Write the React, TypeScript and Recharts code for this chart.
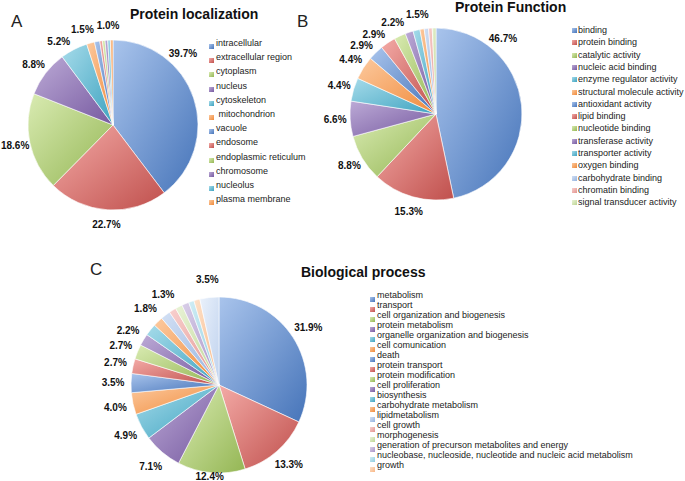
import React from 'react';
import { PieChart, Pie, Cell } from 'recharts';

// A: protein localization
const A_NAMES = ['intracellular', 'extracellular region', 'cytoplasm', 'nucleus', 'cytoskeleton', ' mitochondrion', 'vacuole', 'endosome', 'endoplasmic reticulum', 'chromosome', 'nucleolus', 'plasma membrane'];
const A_VALUES = [39.7, 22.7, 18.6, 8.8, 5.2, 1.5, 1.0, 0.5, 0.5, 0.5, 0.5, 0.5];
const A_UNLABELED = ['endosome', 'endoplasmic reticulum', 'chromosome', 'nucleolus', 'plasma membrane'];

// B: protein function
const B_NAMES = ['binding', 'protein binding', 'catalytic activity', 'nucleic acid binding', 'enzyme regulator activity', 'structural molecule activity', 'antioxidant activity', 'lipid binding', 'nucleotide binding', 'transferase activity', 'transporter activity', 'oxygen binding', 'carbohydrate binding', 'chromatin binding', 'signal transducer activity'];
const B_VALUES = [46.7, 15.3, 8.8, 6.6, 4.4, 4.4, 2.9, 2.9, 2.2, 1.5, 1.3, 0.8, 0.8, 0.7, 0.7];
const B_UNLABELED = ['transporter activity', 'oxygen binding', 'carbohydrate binding', 'chromatin binding', 'signal transducer activity'];

// C: biological process (last slice has no legend entry)
const C_NAMES = ['metabolism', 'transport', 'cell organization and biogenesis', 'protein metabolism', 'organelle organization and biogenesis', 'cell comunication', 'death', 'protein transport', 'protein modification', 'cell proliferation', 'biosynthesis', 'carbohydrate metabolism', 'lipidmetabolism', 'cell growth', 'morphogenesis', 'generation of precurson metabolites and energy', 'nucleobase, nucleoside, nucleotide and nucleic acid metabolism', 'growth', 'other'];
const C_VALUES = [31.9, 13.3, 12.4, 7.1, 4.9, 4.0, 3.5, 2.7, 2.7, 2.2, 2.2, 1.8, 1.8, 1.3, 1.3, 1.3, 1.0, 1.1, 3.5];
const C_UNLABELED = ['biosynthesis', 'lipidmetabolism', 'morphogenesis', 'generation of precurson metabolites and energy', 'nucleobase, nucleoside, nucleotide and nucleic acid metabolism', 'growth'];
const C_LEGEND = C_NAMES.slice(0, 18);

// light / base pairs, one row per tier (tier 0 and 1 share the same colours)
const TIERS = [
  [['#a9c4ec', '#4674b9'], ['#f3aaa6', '#c0504d'], ['#d9ebb2', '#94b654'], ['#bcaad6', '#7659a0'], ['#a6dbea', '#3ea3c0'], ['#fcc99e', '#f08a3a']],
  [['#a9c4ec', '#4674b9'], ['#f3aaa6', '#c0504d'], ['#d9ebb2', '#94b654'], ['#bcaad6', '#7659a0'], ['#a6dbea', '#3ea3c0'], ['#fcc99e', '#f08a3a']],
  [['#d3e0f4', '#94b2de'], ['#f8d0ce', '#e2938f'], ['#e9f3d6', '#bdd595'], ['#d9cfe8', '#a893c8'], ['#d0edf5', '#8fcde0'], ['#fde1c9', '#f8b786']],
  [['#eaf1fb', '#bfd2ee'], ['#fbe6e5', '#eebcba'], ['#f3f8ea', '#d6e6bb'], ['#ece7f4', '#cbbfe0'], ['#e6f5fa', '#c0e4ef'], ['#feefe3', '#fbd3b3']],
];

const gradId = (i: number) => `g${Math.min(Math.floor(i / 6), 3)}-${i % 6}`;
const colorPair = (i: number) => TIERS[Math.min(Math.floor(i / 6), 3)][i % 6];

const toData = (names: string[], values: number[]) => names.map((name, i) => ({ name, value: values[i] }));

const FONT = "'Liberation Sans', Arial, Helvetica, sans-serif";
const RAD = Math.PI / 180;
const fmt = (v: number) => `${v.toFixed(1)}%`;

// nudge crowded labels apart (angle offsets in degrees, keyed by slice index)
function spreadLabels(names: string[], values: number[], unlabeled: string[], R: number) {
  const total = values.reduce((a, b) => a + b, 0);
  let acc = 0;
  const items: { i: number; ang: number; mid: number; w: number }[] = [];
  values.forEach((v, i) => {
    const mid = 90 - ((acc + v / 2) / total) * 360;
    acc += v;
    if (!unlabeled.includes(names[i])) items.push({ i, ang: mid, mid, w: fmt(v).length * 5.8 });
  });
  const pos = (d: { ang: number }) => [R * Math.cos(-d.ang * RAD), R * Math.sin(-d.ang * RAD)];
  for (let it = 0; it < 300; it++) {
    let moved = false;
    for (let k = 0; k < items.length; k++) {
      const a = items[k];
      const b = items[(k + 1) % items.length];
      const [ax, ay] = pos(a);
      const [bx, by] = pos(b);
      if (Math.abs(ax - bx) < (a.w + b.w) / 2 + 1 && Math.abs(ay - by) < 11) {
        a.ang += 0.5;
        b.ang -= 0.5;
        moved = true;
      }
    }
    if (!moved) break;
  }
  const delta: Record<number, number> = {};
  items.forEach((d) => { delta[d.i] = d.ang - d.mid; });
  return delta;
}

const makeLabel = (unlabeled: string[], delta: Record<number, number>, labelR: number, maxDx: number, maxY: number) => (props: any) => {
  const { cx, cy, midAngle, value, name, index } = props;
  if (unlabeled.includes(name)) return null;
  const ang = midAngle + (delta[index] || 0);
  let x = cx + labelR * Math.cos(-ang * RAD);
  let y = cy + labelR * Math.sin(-ang * RAD);
  if (x - cx > maxDx) {
    const c = maxDx / labelR;
    const s = Math.sqrt(1 - c * c);
    x = cx + maxDx;
    y = cy + (y < cy ? -1 : 1) * s * labelR;
  }
  if (y > maxY) y = maxY;
  return (
    <text key={`l-${index}`} x={x} y={y} textAnchor="middle" dominantBaseline="central" fontFamily={FONT} fontSize={10} fontWeight="bold" fill="#111">
      {fmt(value)}
    </text>
  );
};

interface LegendProps {
  names: string[];
  textX: number;
  firstY: number;
  step: number;
  swX: number;
  swDy: number;
}

function Legend({ names, textX, firstY, step, swX, swDy }: LegendProps) {
  return (
    <>
      {names.map((n, i) => {
        const [light, base] = colorPair(i);
        const y = firstY + i * step;
        return (
          <React.Fragment key={n}>
            <div style={{ position: 'absolute', left: swX, top: y + swDy, width: 5, height: 5, background: `linear-gradient(135deg, ${light}, ${base})` }} />
            <div style={{ position: 'absolute', left: textX, top: y - 6, height: 12, lineHeight: '12px', fontSize: 9, fontFamily: FONT, color: '#222', whiteSpace: 'pre' }}>{n}</div>
          </React.Fragment>
        );
      })}
    </>
  );
}

const titleStyle: React.CSSProperties = { position: 'absolute', fontFamily: FONT, fontWeight: 'bold', fontSize: 14, lineHeight: '14px', color: '#111', whiteSpace: 'nowrap' };
const letterStyle: React.CSSProperties = { position: 'absolute', fontFamily: FONT, fontSize: 17, lineHeight: '17px', color: '#222' };

const LABEL_R_A = 100;
const LABEL_R_B = 101;
const LABEL_R_C = 106;

export default function App() {
  const dataA = toData(A_NAMES, A_VALUES);
  const dataB = toData(B_NAMES, B_VALUES);
  const dataC = toData(C_NAMES, C_VALUES);
  const deltaA = spreadLabels(A_NAMES, A_VALUES, A_UNLABELED, LABEL_R_A);
  const deltaB = spreadLabels(B_NAMES, B_VALUES, B_UNLABELED, LABEL_R_B);
  const deltaC = spreadLabels(C_NAMES, C_VALUES, C_UNLABELED, LABEL_R_C);
  const pieCommon = {
    dataKey: 'value',
    nameKey: 'name',
    startAngle: 90,
    endAngle: -270,
    labelLine: false,
    isAnimationActive: false,
    stroke: 'rgba(255,255,255,0.75)',
    strokeWidth: 0.8,
  };
  return (
    <div style={{ position: 'absolute', left: 0, top: 0, width: 685, height: 481, background: '#fff', overflow: 'hidden' }}>
      <PieChart width={685} height={481} margin={{ top: 0, right: 0, bottom: 0, left: 0 }}>
        <defs>
          {TIERS.map((tier, t) =>
            tier.map(([light, base], k) => (
              <linearGradient key={`g${t}-${k}`} id={`g${t}-${k}`} x1="0" y1="0" x2="1" y2="1">
                <stop offset="0%" stopColor={light} />
                <stop offset="100%" stopColor={base} />
              </linearGradient>
            ))
          )}
        </defs>
        <Pie {...pieCommon} data={dataA} cx={113} cy={125} outerRadius={85} label={makeLabel(A_UNLABELED, deltaA, LABEL_R_A, 70, 999)}>
          {dataA.map((d, i) => <Cell key={d.name} fill={`url(#${gradId(i)})`} />)}
        </Pie>
        <Pie {...pieCommon} data={dataB} cx={436} cy={114} outerRadius={86} label={makeLabel(B_UNLABELED, deltaB, LABEL_R_B, 67, 999)}>
          {dataB.map((d, i) => <Cell key={d.name} fill={`url(#${gradId(i)})`} />)}
        </Pie>
        <Pie {...pieCommon} data={dataC} cx={219} cy={385} outerRadius={88} label={makeLabel(C_UNLABELED, deltaC, LABEL_R_C, 999, 476)}>
          {dataC.map((d, i) => <Cell key={d.name} fill={`url(#${gradId(i)})`} />)}
        </Pie>
      </PieChart>

      <div style={{ ...letterStyle, left: 11, top: 13 }}>A</div>
      <div style={{ ...letterStyle, left: 297, top: 13 }}>B</div>
      <div style={{ ...letterStyle, left: 90, top: 261 }}>C</div>

      <div style={{ ...titleStyle, left: 130, top: 7 }}>Protein localization</div>
      <div style={{ ...titleStyle, left: 455, top: 0 }}>Protein Function</div>
      <div style={{ ...titleStyle, left: 301, top: 265 }}>Biological process</div>

      <Legend names={A_NAMES} textX={216} firstY={43} step={14.2} swX={209} swDy={1} />
      <Legend names={B_NAMES} textX={578} firstY={30} step={12.3} swX={572} swDy={-2} />
      <Legend names={C_LEGEND} textX={377} firstY={295} step={10} swX={370} swDy={2} />
    </div>
  );
}
